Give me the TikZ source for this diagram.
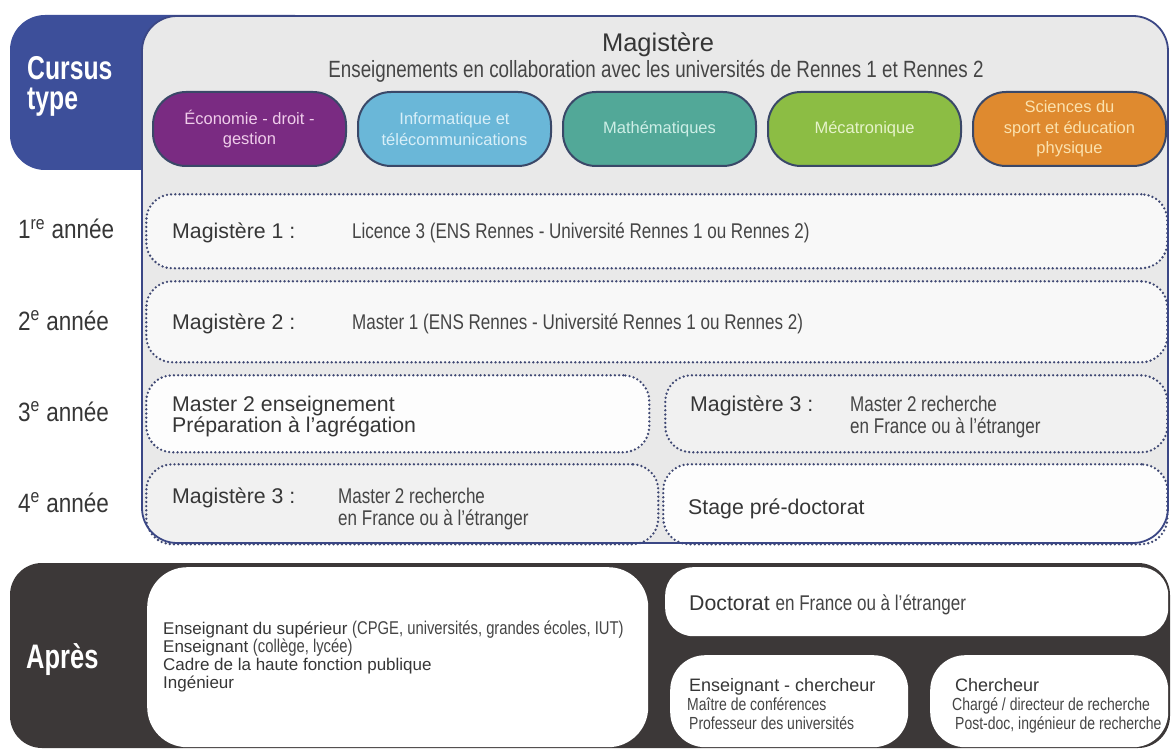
\documentclass[tikz,border=0pt]{standalone}
\usepackage{fontspec}
\setmainfont{Liberation Sans}
\newfontfamily\cond[FakeStretch=0.8]{Liberation Sans}
\newfontfamily\condy[FakeStretch=0.85]{Liberation Sans}
\newfontfamily\condbf[FakeStretch=0.75]{Liberation Sans Bold}
\definecolor{cblue}{HTML}{3D4F9A}
\definecolor{pborder}{HTML}{3B4785}
\definecolor{pfill}{HTML}{E9E9E9}
\definecolor{dotc}{HTML}{3F4873}
\definecolor{darkp}{HTML}{3C3838}
\definecolor{txtd}{HTML}{363636}
\definecolor{txtl}{HTML}{454545}
\definecolor{bxb}{HTML}{3A4868}
\definecolor{eco}{HTML}{7A2B82}
\definecolor{ecot}{HTML}{EFCDEA}
\definecolor{info}{HTML}{6AB7D8}
\definecolor{infot}{HTML}{D8EFF8}
\definecolor{math}{HTML}{52A898}
\definecolor{matht}{HTML}{CDEEE6}
\definecolor{meca}{HTML}{8CBD44}
\definecolor{mecat}{HTML}{E6F3CA}
\definecolor{sci}{HTML}{DF8A2F}
\definecolor{scit}{HTML}{FBE2AE}
\definecolor{rowa}{HTML}{F8F8F8}
\definecolor{rowb}{HTML}{F1F1F1}
\definecolor{roww}{HTML}{FDFDFD}
\begin{document}
\begin{tikzpicture}[x=1pt,y=-1pt,
  txt/.style={inner sep=0, anchor=base west},
  reg/.style={txt, font=\fontsize{21.3}{24}\selectfont, text=txtd},
  cnd/.style={txt, font=\cond\fontsize{21.3}{25}\selectfont, text=txtl},
  yearlbl/.style={txt, font=\condy\fontsize{26.5}{30}\selectfont, text=txtd},
  tabtxt/.style={txt, font=\condbf\fontsize{33}{38}\selectfont, text=white},
  disc/.style={draw=bxb, line width=2, rounded corners=33, minimum width=193,
    minimum height=74, align=center, inner sep=0,
    font=\fontsize{16.5}{20.5}\selectfont},
  dotbox/.style={draw=dotc, line width=2.6, dash pattern=on 0pt off 4.2pt,
    line cap=round, rounded corners=26, inner sep=0, anchor=north west},
  whitebox/.style={fill=white, inner sep=0, anchor=north west},
  smallreg/.style={txt, font=\fontsize{17}{20}\selectfont, text=txtd},
  smallcnd/.style={txt, font=\cond\fontsize{17.5}{20}\selectfont, text=txtl}
]
\useasboundingbox (0,0) rectangle (1171,749);
\fill[white] (0,0) rectangle (1171,749);

% Cursus type tab
\fill[cblue, rounded corners=35] (10,15) rectangle (330,170);
\node[tabtxt] (cursus) at (27,80) {Cursus};
\node[tabtxt] (type) at (27,110) {type};

% Magistere panel
\path[fill=pfill, rounded corners=35] (142,16) rectangle (1168,543);
\node[txt, anchor=base, font=\fontsize{25.5}{30}\selectfont, text=txtd] (title) at (658,52) {Magistère};
\node[txt, anchor=base, font=\cond\fontsize{23.5}{27}\selectfont, text=txtl] (sub) at (656,78)
  {Enseignements en collaboration avec les universités de Rennes 1 et Rennes 2};

% discipline boxes
\node[disc, fill=eco, text=ecot] (eco) at (249.5,129) {Économie - droit -\\gestion};
\node[disc, fill=info, text=infot] (info) at (454.5,129) {Informatique et\\télécommunications};
\node[disc, fill=math, text=matht] (math) at (659.5,129) {Mathématiques};
\node[disc, fill=meca, text=mecat] (meca) at (864.5,129) {Mécatronique};
\node[disc, fill=sci, text=scit] (sci) at (1069.5,129) {Sciences du\\sport et éducation\\physique};

% year rows
\node[dotbox, fill=rowa, minimum width=1021, minimum height=74] (row1) at (145,193) {};
\node[dotbox, fill=rowa, minimum width=1021, minimum height=81] (row2) at (145,280) {};
\node[dotbox, fill=roww, minimum width=503, minimum height=77] (row3l) at (145,374) {};
\node[dotbox, fill=rowb, minimum width=502, minimum height=77] (row3r) at (664,374) {};
\node[dotbox, fill=rowb, minimum width=512, minimum height=80] (row4l) at (145,463) {};
\node[dotbox, fill=roww, minimum width=504, minimum height=80] (row4r) at (662,463) {};

% panel border on top
\draw[pborder, line width=1.8, rounded corners=35] (142,16) rectangle (1168,543);

% year labels
\node[yearlbl] (y1) at (18,239) {1\textsuperscript{re} année};
\node[yearlbl] (y2) at (18,330) {2\textsuperscript{e} année};
\node[yearlbl] (y3) at (18,421) {3\textsuperscript{e} année};
\node[yearlbl] (y4) at (18,512) {4\textsuperscript{e} année};

% row texts
\node[reg] (m1) at (172,238) {Magistère 1 :};
\node[cnd] (l3) at (352,238) {Licence 3 (ENS Rennes - Université Rennes 1 ou Rennes 2)};
\node[reg] (m2) at (172,329) {Magistère 2 :};
\node[cnd] (ma1) at (352,329) {Master 1 (ENS Rennes - Université Rennes 1 ou Rennes 2)};
\node[reg] (m2e) at (172,411) {Master 2 enseignement};
\node[reg] (prep) at (172,432) {Préparation à l’agrégation};
\node[reg] (m3a) at (690,411) {Magistère 3 :};
\node[cnd] (m2ra) at (850,411) {Master 2 recherche};
\node[cnd] (fra) at (850,433) {en France ou à l’étranger};
\node[reg] (m3b) at (172,503) {Magistère 3 :};
\node[cnd] (m2rb) at (338,503) {Master 2 recherche};
\node[cnd] (frb) at (338,525) {en France ou à l’étranger};
\node[reg] (stage) at (688,514) {Stage pré-doctorat};

% Apres panel
\fill[darkp, rounded corners=32] (10,563) rectangle (1170,748);
\node[tabtxt, font=\condbf\fontsize{34}{40}\selectfont] (apres) at (26,668) {Après};
\node[whitebox, rounded corners=40, minimum width=501, minimum height=180] (wl) at (147,567) {};
\node[whitebox, rounded corners=28, minimum width=503, minimum height=69] (doc) at (665,567) {};
\node[whitebox, rounded corners=35, minimum width=238, minimum height=92] (ec) at (670,655) {};
\node[whitebox, rounded corners=35, minimum width=238, minimum height=92] (ch) at (930,655) {};

\node[smallreg] (a1) at (163,634) {Enseignant du supérieur {\cond\fontsize{18.5}{20}\selectfont\color{txtl} (CPGE, universités, grandes écoles, IUT)}};
\node[smallreg] (a2) at (163,652) {Enseignant {\cond\fontsize{18.5}{20}\selectfont\color{txtl} (collège, lycée)}};
\node[smallreg] (a3) at (163,670) {Cadre de la haute fonction publique};
\node[smallreg] (a4) at (163,688) {Ingénieur};

\node[reg] (doct) at (689,610) {Doctorat {\cond\fontsize{21.3}{24}\selectfont\color{txtl} en France ou à l’étranger}};

\node[smallreg, font=\fontsize{18}{21}\selectfont] (ect) at (689,691) {Enseignant - chercheur};
\node[smallcnd] (ec1) at (687,710) {Maître de conférences};
\node[smallcnd] (ec2) at (689,729) {Professeur des universités};
\node[smallreg, font=\fontsize{18}{21}\selectfont] (cht) at (955,691) {Chercheur};
\node[smallcnd] (ch1) at (952,710) {Chargé / directeur de recherche};
\node[smallcnd] (ch2) at (955,729) {Post-doc, ingénieur de recherche};
\end{tikzpicture}
\end{document}
